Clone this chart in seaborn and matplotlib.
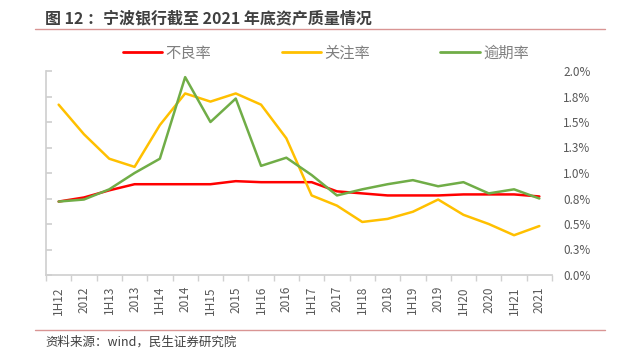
import numpy as np
import pandas as pd
import matplotlib
matplotlib.use("Agg")
import matplotlib.pyplot as plt
import seaborn as sns
from matplotlib.lines import Line2D

periods = ["1H12", "2012", "1H13", "2013", "1H14", "2014", "1H15", "2015", "1H16", "2016",
           "1H17", "2017", "1H18", "2018", "1H19", "2019", "1H20", "2020", "1H21", "2021"]
npl = [0.72, 0.76, 0.83, 0.89, 0.89, 0.89, 0.89, 0.92, 0.91, 0.91,
       0.91, 0.82, 0.80, 0.78, 0.78, 0.78, 0.79, 0.79, 0.79, 0.77]
special_mention = [1.67, 1.38, 1.14, 1.06, 1.47, 1.78, 1.70, 1.78, 1.67, 1.34,
                   0.78, 0.68, 0.52, 0.55, 0.62, 0.74, 0.59, 0.50, 0.39, 0.48]
overdue = [0.72, 0.74, 0.84, 1.00, 1.14, 1.94, 1.50, 1.73, 1.07, 1.15,
           0.98, 0.78, 0.84, 0.89, 0.93, 0.87, 0.91, 0.80, 0.84, 0.75]
series_names = ["不良率", "关注率", "逾期率"]
colors = ["#FF0000", "#FFC000", "#70AD47"]
ytick_vals = [0.0, 0.25, 0.5, 0.75, 1.0, 1.25, 1.5, 1.75, 2.0]
ytick_labels = ["0.0%", "0.3%", "0.5%", "0.8%", "1.0%", "1.3%", "1.5%", "1.8%", "2.0%"]

sns.set_theme(style="white")
plt.rcParams['font.family'] = ['Noto Sans CJK SC', 'DejaVu Sans']

df = pd.DataFrame({"pos": list(range(len(periods))) * 3,
                   "value": npl + special_mention + overdue,
                   "series": np.repeat(series_names, len(periods))})

fig = plt.figure(figsize=(6.17, 3.51), dpi=100)
ax = fig.add_axes([46 / 617, 1 - 275 / 351, (552 - 46) / 617, (275 - 71) / 351])
sns.lineplot(data=df, x="pos", y="value", hue="series", hue_order=series_names,
             palette=colors, linewidth=1.8, sort=False, ax=ax, legend=False)

grey = "#D0D0D0"
ax.set_xlim(-0.5, len(periods) - 0.5)
ax.set_ylim(0, 2.0)
ax.set_xlabel("")
ax.set_ylabel("")
for s in ["top", "right"]:
    ax.spines[s].set_visible(False)
ax.spines["left"].set_color(grey)
ax.spines["bottom"].set_color(grey)

ax.set_xticks(range(len(periods)))
ax.set_xticklabels(periods, rotation=90, fontsize=8.5, color="#595959")
ax.set_xticks(np.arange(-0.5, len(periods), 1.0), minor=True)
ax.tick_params(axis="x", which="major", length=0, pad=8)
ax.tick_params(axis="x", which="minor", length=4, color=grey, direction="out", bottom=True)

ax.set_yticks(ytick_vals)
ax.set_yticklabels(ytick_labels, fontsize=8.5, color="#595959")
ax.tick_params(axis="y", left=True, right=False, labelleft=False, labelright=True,
               direction="in", length=4, color=grey, pad=8)

handles = [Line2D([], [], color=c, linewidth=2) for c in colors]
fig.legend(handles, series_names, loc="center", bbox_to_anchor=(0.528, 1 - 53 / 351),
           ncol=3, frameon=False, fontsize=11, handlelength=2.6, columnspacing=4.6,
           handletextpad=0.2, labelcolor="#7F7F7F")

fig.text(45 / 617, 1 - 18 / 351, "图 12 ：宁波银行截至 2021 年底资产质量情况",
         fontsize=11.5, fontweight="bold", color="#404040", va="center", ha="left")
fig.add_artist(Line2D([35 / 617, 605 / 617], [1 - 29 / 351] * 2, color="#D99594", linewidth=1))
fig.add_artist(Line2D([35 / 617, 605 / 617], [1 - 330 / 351] * 2, color="#D99594", linewidth=1))
fig.text(45 / 617, 1 - 342 / 351, "资料来源：wind，民生证券研究院",
         fontsize=9, color="#404040", va="center", ha="left")

fig.savefig("out.png", dpi=100)
